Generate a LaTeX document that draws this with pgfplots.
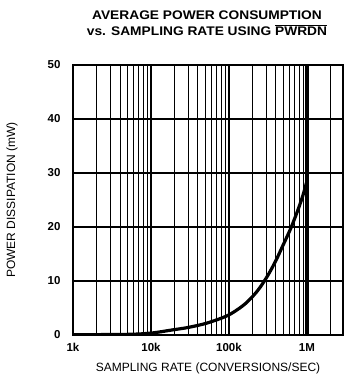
\documentclass[border=0pt]{standalone}
\usepackage{pgfplots}
\pgfplotsset{compat=1.18}
\usepackage{fontspec}
\setmainfont{Liberation Sans}
\begin{document}
\begin{tikzpicture}
\begin{axis}[
  scale only axis,
  width=270pt, height=270pt,
  xmode=log, log basis x=10,
  xmin=1000, xmax=2.9e6,
  ymin=0, ymax=50,
  xtick={1000,10000,100000,1000000},
  xticklabels={\textbf{1k},\textbf{10k},\textbf{100k},\textbf{1M}},
  ytick={0,10,20,30,40,50},
  yticklabels={\textbf{0},\textbf{10},\textbf{20},\textbf{30},\textbf{40},\textbf{50}},
  minor xtick={2000,3000,4000,5000,6000,7000,8000,9000,20000,30000,40000,50000,60000,70000,80000,90000,200000,300000,400000,500000,600000,700000,800000,900000,2000000},
  xmajorgrids, xminorgrids, ymajorgrids,
  major grid style={black, line width=2.4pt},
  minor grid style={black, line width=0.9pt},
  every y tick/.style={draw=none},
  every x tick/.style={draw=none},
  major tick length=0pt, minor tick length=0pt,
  axis line style={line width=2.4pt},
  tick label style={font=\fontsize{11.5}{13}\selectfont},
  xticklabel style={yshift=-5pt},
  yticklabel style={xshift=-9pt},
  xlabel={SAMPLING RATE (CONVERSIONS/SEC)},
  ylabel={POWER DISSIPATION (mW)},
  label style={font=\fontsize{12}{14}\selectfont},
  xlabel style={at={(axis description cs:0.5,-0.122)}, anchor=center},
  ylabel style={at={(axis description cs:-0.226,0.5)}, anchor=center},
  clip=true,
]
\addplot[black, line width=1.2pt, forget plot] coordinates {(1000,10) (2.9e6,10)};
\addplot[black, line width=1.2pt, forget plot] coordinates {(1000,20) (2.9e6,20)};
\addplot[black, line width=1.2pt, forget plot] coordinates {(1000,30) (2.9e6,30)};
\addplot[black, line width=1.2pt, forget plot] coordinates {(1000,40) (2.9e6,40)};
\addplot[black, line width=4pt, forget plot] coordinates {(1000000,0) (1000000,50)};
\addplot[black, line width=3.2pt, smooth, tension=0.5] coordinates {
 (1000,0.05) (5000,0.12) (10000,0.35) (19000,0.95) (30000,1.4) (52000,2.2)
 (96000,3.6) (150000,5.4) (200000,7.1) (250000,8.8) (320000,11.2)
 (400000,13.8) (500000,16.8) (618000,19.7) (750000,22.8) (877000,25.6) (1000000,28.5)};
\end{axis}
\node[align=center, font=\fontsize{12.5}{16}\selectfont\bfseries] at (134pt,312pt)
  {\scalebox{1.1}[1]{AVERAGE POWER CONSUMPTION}\\\scalebox{1.1}[1]{vs. SAMPLING RATE USING $\overline{\mbox{PWRDN}}$}};
\pgfresetboundingbox
\path[use as bounding box] (-73pt,-51pt) rectangle (280pt,335pt);
\end{tikzpicture}
\end{document}
